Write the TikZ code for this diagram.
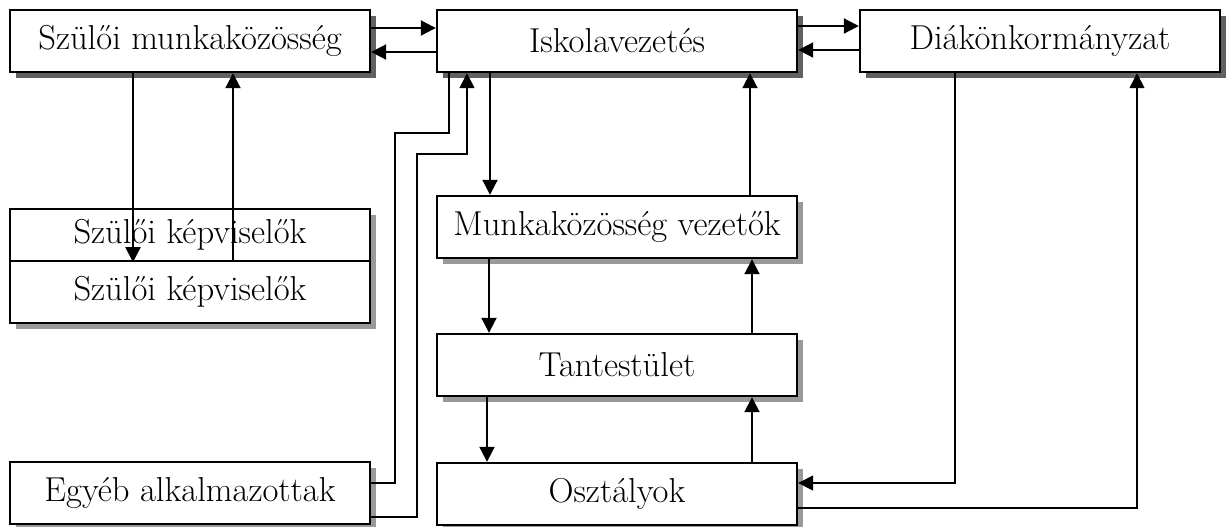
\documentclass[tikz,border=0pt]{standalone}
\usetikzlibrary{arrows.meta,shadows}
\tikzset{
  box/.style={draw, line width=1.2pt, fill=white, inner sep=0pt, minimum width=180pt, minimum height=31pt, font=\fontsize{17.3}{20}\selectfont},
  darkbox/.style={box, general shadow={fill=black, opacity=0.62, shadow xshift=3pt, shadow yshift=-3pt}},
  lightbox/.style={box, general shadow={fill=black, opacity=0.4, shadow xshift=3pt, shadow yshift=-3pt}},
  arr/.style={line width=1pt, -{Triangle[length=7.5pt,width=7.5pt]}},
  thinline/.style={line width=0.6pt},
}
\begin{document}
\begin{tikzpicture}[x=0.5pt,y=-0.5pt]
            \useasboundingbox (0,0) rectangle (1228,526);
            \node[darkbox] (szm) at (190,41) {Szülői munkaközösség};
            \node[darkbox] (isk) at (617,41) {Iskolavezetés};
            \node[darkbox] (diak) at (1040,41) {Diákönkormányzat};
            \node[lightbox, minimum height=26pt] (kep1) at (190,235) {Szülői képviselők};
            \node[lightbox] (kep2) at (190,292) {Szülői képviselők};
            \node[lightbox] (mkv) at (617,227) {Munkaközösség vezetők};
            \node[lightbox] (tan) at (617,365) {Tantestület};
            \node[lightbox] (oszt) at (617,494) {Osztályok};
            \node[lightbox] (egyeb) at (190,493) {Egyéb alkalmazottak};

            \draw[arr] (szm.east |- 0,28) to (isk.west |- 0,28); \draw[arr] (isk.west |- 0,52) to (szm.east |- 0,52);
            \draw[arr] (isk.east |- 0,26) to (diak.west |- 0,26); \draw[arr] (diak.west |- 0,50) to (isk.east |- 0,50);
            \draw[arr] (szm.south -| 133,0) to (kep1.south -| 133,0); \draw[arr] (kep1.south -| 233,0) to (szm.south -| 233,0);
            \draw[arr] (isk.south -| 490,0) to (mkv.north -| 490,0); \draw[arr] (mkv.north -| 750,0) to (isk.south -| 750,0);
            \draw[arr] (mkv.south -| 489,0) to (tan.north -| 489,0); \draw[arr] (tan.north -| 752,0) to (mkv.south -| 752,0);
            \draw[arr] (tan.south -| 487,0) to (oszt.north -| 487,0); \draw[arr] (oszt.north -| 752,0) to (tan.south -| 752,0);
            \draw[thinline] (egyeb.east |- 0,483) -| (395,133) -| (isk.south -| 449,0);
            \draw[arr, line width=0.7pt] (egyeb.east |- 0,517) -| (417,154) -| (isk.south -| 467,0);
            \draw[arr, line width=0.7pt] (diak.south -| 955,0) |- (oszt.east |- 0,483);
            \draw[arr, line width=0.7pt] (oszt.east |- 0,508) -| (diak.south -| 1137,0);
        \end{tikzpicture}
\end{document}
